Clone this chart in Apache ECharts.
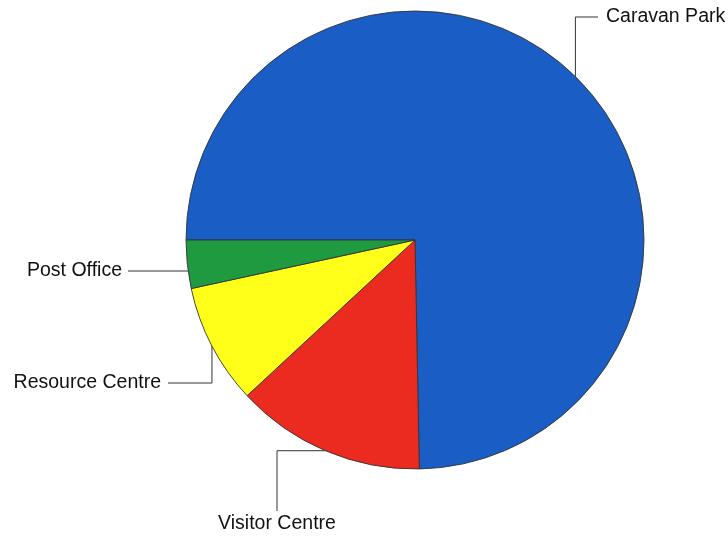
<!DOCTYPE html>
<html>
<head>
<meta charset="utf-8">
<script src="https://cdn.jsdelivr.net/npm/echarts@6/dist/echarts.min.js"></script>
<style>
  html, body { margin: 0; padding: 0; background: #fff; }
  #chart { width: 728px; height: 537px; }
</style>
</head>
<body>
<div id="chart"></div>
<script>
// slices, clockwise from 9 o'clock
var categories = ["Caravan Park", "Visitor Centre", "Resource Centre", "Post Office"];
var values = [74.7, 13.4, 8.5, 3.4];
var colors = ["#1a5dc4", "#ec2b20", "#ffff1a", "#1f9a40"];

// where each label sits and how its leader line bends (pixels)
var labelSpots = [
  { x: 606, y: 17, align: "left", bend: function (p) { return [p, [p[0], 17], [598, 17]]; } },
  { x: 277, y: 524, align: "center", bend: function (p) { return [p, [277, p[1]], [277, 511]]; } },
  { x: 161, y: 383, align: "right", bend: function (p) { return [p, [p[0], 383], [168, 383]]; } },
  { x: 122, y: 271, align: "right", bend: function (p) { return [[188, 271], [128, 271]]; } }
];

var myChart = echarts.init(document.getElementById("chart"));

var option = {
  animation: false,
  series: [
    {
      type: "pie",
      center: [415, 240],
      radius: 229,
      startAngle: 180,
      clockwise: true,
      avoidLabelOverlap: false,
      data: categories.map(function (c, i) {
        return { name: c, value: values[i], itemStyle: { color: colors[i] } };
      }),
      itemStyle: { borderColor: "#333", borderWidth: 0.9 },
      label: {
        show: true,
        formatter: "{b}",
        color: "#111",
        fontFamily: "Liberation Sans, Arial, sans-serif",
        fontSize: 19.5
      },
      labelLine: {
        show: true,
        length: 5,
        length2: 5,
        lineStyle: { color: "#333", width: 1 }
      },
      labelLayout: function (params) {
        var s = labelSpots[params.dataIndex];
        var start = params.labelLinePoints[0];
        return {
          x: s.x,
          y: s.y,
          align: s.align,
          verticalAlign: "middle",
          labelLinePoints: s.bend(start)
        };
      },
      emphasis: { disabled: true }
    }
  ]
};

myChart.setOption(option);
</script>
</body>
</html>
